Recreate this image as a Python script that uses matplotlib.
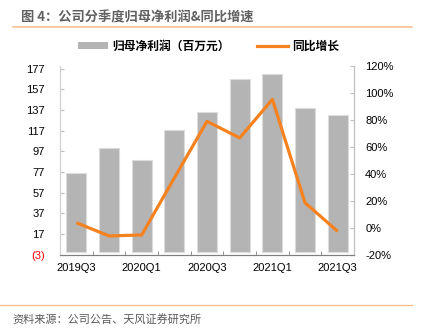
import matplotlib
matplotlib.use('Agg')
import matplotlib.pyplot as plt
import numpy as np
from matplotlib.lines import Line2D
from matplotlib.patches import Patch

quarters = ["2019Q3", "2019Q4", "2020Q1", "2020Q2", "2020Q3", "2020Q4", "2021Q1", "2021Q2", "2021Q3"]
profit = [75.7, 99.9, 88.3, 117.3, 135.4, 167.0, 172.2, 139.3, 132.2]   # 百万元
yoy = [3.7, -6.1, -5.4, 37.0, 79.0, 66.7, 95.3, 18.5, -2.7]              # %
left_ticks = [-3, 17, 37, 57, 77, 97, 117, 137, 157, 177]
right_ticks = [-20, 0, 20, 40, 60, 80, 100, 120]

plt.rcParams['font.family'] = ['Liberation Sans', 'Noto Sans CJK SC']
cjk = ['Noto Sans CJK SC', 'DejaVu Sans']

fig = plt.figure(figsize=(4.21, 3.29), dpi=100)
ax = fig.add_axes([0.1425, 0.226, 0.6985, 0.573])
ax2 = ax.twinx()

xs = np.arange(len(quarters))
ax.bar(xs, profit, 0.61, color='#b4b4b4', edgecolor='#dcdcdc', linewidth=0.8, zorder=2)
ax2.plot(xs, yoy, color='#f5821f', linewidth=2.3, solid_capstyle='butt', zorder=3)

ax.set_xlim(-0.5, len(quarters) - 0.5)
ax.set_ylim(-3, 179.5)
ax2.set_ylim(-20, 119.5)

ax.set_yticks(left_ticks)
ax.set_yticklabels(["(3)" if v < 0 else str(v) for v in left_ticks], fontsize=8)
ax.get_yticklabels()[0].set_color('#ff0000')
ax2.set_yticks(right_ticks)
ax2.set_yticklabels([f"{v}%" for v in right_ticks], fontsize=8)

ax.set_xticks(xs[::2])
ax.set_xticklabels(quarters[::2], fontsize=8)
ax.set_xticks(np.arange(0.5, len(quarters) - 0.5), minor=True)
ax.tick_params(axis='x', which='major', length=0, pad=6)
ax.tick_params(axis='x', which='minor', direction='in', length=3, color='#808080')
ax.tick_params(axis='y', direction='in', length=3, color='#bfbfbf', pad=11)
ax2.tick_params(axis='y', direction='in', length=3, color='#bfbfbf', pad=8)

for a in (ax, ax2):
    a.spines['top'].set_visible(False)
    a.spines['left'].set_color('#d0d0d0')
    a.spines['right'].set_color('#bfbfbf')
    a.spines['bottom'].set_color('#808080')

handles = [Patch(facecolor='#b4b4b4', edgecolor='none'),
           Line2D([0], [0], color='#f5821f', linewidth=2.3)]
fig.legend(handles, ["归母净利润（百万元）", "同比增长"], loc='center', bbox_to_anchor=(0.495, 0.86),
           ncol=2, frameon=False, prop={'family': cjk, 'size': 8.5, 'weight': 'bold'},
           handlelength=2.6, handleheight=0.6, columnspacing=2.3, handletextpad=0.35)

fig.text(0.05, 0.948, "图 4：公司分季度归母净利润&同比增速", family=cjk, fontsize=9.5,
         fontweight='bold', color='#606060', va='center')
fig.add_artist(Line2D([0.03, 0.978], [0.917, 0.917], color='#f9c08e', linewidth=1.2))
fig.add_artist(Line2D([0.0, 0.978], [0.073, 0.073], color='#f9c08e', linewidth=1.0))
fig.text(0.03, 0.028, "资料来源：公司公告、天风证券研究所", family=cjk, fontsize=8,
         color='#595959', va='center')

plt.savefig("out.png", dpi=100)
